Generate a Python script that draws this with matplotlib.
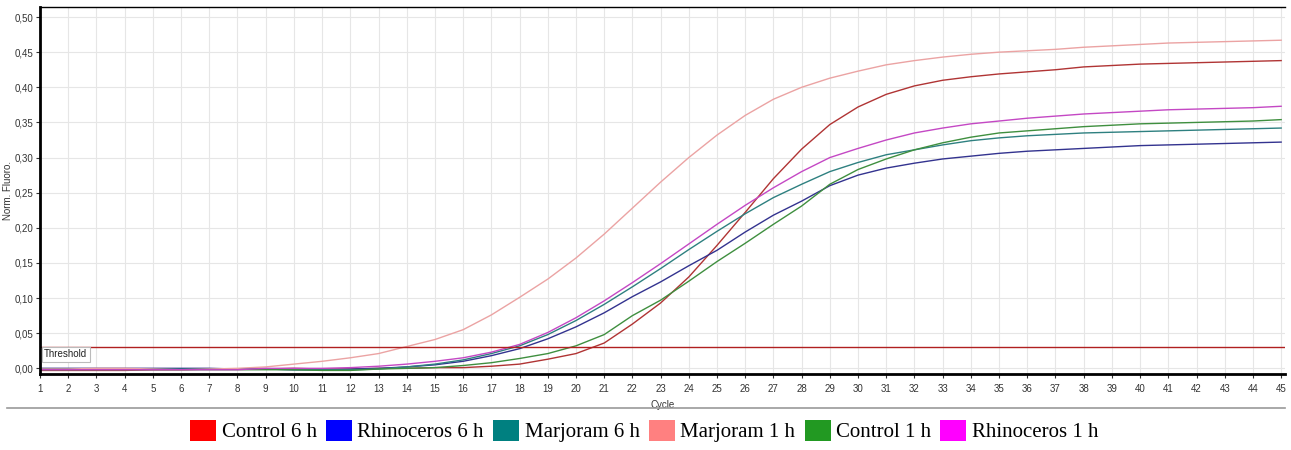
import numpy as np
import matplotlib.pyplot as plt
from matplotlib.patches import Patch
from matplotlib.lines import Line2D
from matplotlib.ticker import FuncFormatter

# Cycle numbers
cycles = np.arange(1, 46)

# Normalised fluorescence per sample
control_6h = [-0.003, -0.003, -0.003, -0.003, -0.002, -0.002, -0.001, -0.001, -0.001, 0.0,
              -0.001, -0.001, 0.0, 0.0, 0.001, 0.001, 0.003, 0.006, 0.013, 0.021,
              0.036, 0.063, 0.093, 0.130, 0.175, 0.222, 0.270, 0.312, 0.347, 0.372,
              0.390, 0.402, 0.410, 0.415, 0.419, 0.422, 0.425, 0.429, 0.431, 0.433,
              0.434, 0.435, 0.436, 0.437, 0.438]
rhino_6h = [0.0, 0.0, 0.0, 0.0, 0.0, 0.0, 0.0, -0.001, -0.001, -0.002,
            -0.002, -0.001, 0.0, 0.002, 0.005, 0.010, 0.018, 0.028, 0.042, 0.059,
            0.079, 0.102, 0.123, 0.146, 0.168, 0.194, 0.218, 0.238, 0.260, 0.275,
            0.285, 0.292, 0.298, 0.302, 0.306, 0.309, 0.311, 0.313, 0.315, 0.317,
            0.318, 0.319, 0.320, 0.321, 0.322]
marjoram_6h = [-0.001, -0.001, -0.001, -0.001, -0.001, -0.001, -0.001, -0.001, -0.001, -0.002,
               -0.002, -0.002, -0.001, 0.002, 0.006, 0.012, 0.021, 0.032, 0.048, 0.068,
               0.091, 0.116, 0.142, 0.169, 0.195, 0.220, 0.243, 0.262, 0.280, 0.293,
               0.304, 0.311, 0.318, 0.324, 0.328, 0.331, 0.333, 0.335, 0.336, 0.337,
               0.338, 0.339, 0.340, 0.341, 0.342]
marjoram_1h = [-0.001, -0.001, 0.0, 0.0, -0.001, -0.002, -0.001, 0.0, 0.002, 0.006,
               0.010, 0.015, 0.021, 0.031, 0.041, 0.055, 0.076, 0.101, 0.127, 0.157,
               0.191, 0.228, 0.265, 0.300, 0.332, 0.360, 0.383, 0.400, 0.413, 0.423,
               0.432, 0.438, 0.443, 0.447, 0.450, 0.452, 0.454, 0.457, 0.459, 0.461,
               0.463, 0.464, 0.465, 0.466, 0.467]
control_1h = [-0.002, -0.002, -0.002, -0.002, -0.002, -0.002, -0.002, -0.002, -0.002, -0.002,
              -0.003, -0.003, -0.001, 0.0, 0.001, 0.004, 0.008, 0.014, 0.021, 0.032,
              0.048, 0.075, 0.097, 0.124, 0.152, 0.178, 0.205, 0.231, 0.262, 0.283,
              0.298, 0.311, 0.321, 0.329, 0.335, 0.338, 0.341, 0.344, 0.346, 0.348,
              0.349, 0.350, 0.351, 0.352, 0.354]
rhino_1h = [-0.002, -0.002, -0.002, -0.002, -0.002, -0.002, -0.002, -0.002, 0.0, 0.0,
            0.0, 0.001, 0.003, 0.006, 0.010, 0.015, 0.023, 0.034, 0.051, 0.072,
            0.096, 0.122, 0.149, 0.177, 0.205, 0.232, 0.257, 0.280, 0.300, 0.313,
            0.325, 0.335, 0.342, 0.348, 0.352, 0.356, 0.359, 0.362, 0.364, 0.366,
            0.368, 0.369, 0.370, 0.371, 0.373]

threshold = 0.03

labels = ["Control 6 h", "Rhinoceros 6 h", "Marjoram 6 h", "Marjoram 1 h", "Control 1 h", "Rhinoceros 1 h"]
series = [control_6h, rhino_6h, marjoram_6h, marjoram_1h, control_1h, rhino_1h]
line_colors = ["#b03434", "#33338f", "#2e8080", "#eba3a3", "#3f8f3f", "#c448c4"]
legend_colors = ["#ff0000", "#0000ff", "#008080", "#ff8080", "#229922", "#ff00ff"]

fig = plt.figure(figsize=(12.91, 4.5), dpi=100)
ax = fig.add_axes([0.031, 0.169, 0.964, 0.815])

for vals, c in zip(series, line_colors):
    ax.plot(cycles, vals, color=c, lw=1.0)

# threshold line + label
ax.axhline(threshold, color="#b02020", lw=1.0)
ax.text(1.15, threshold - 0.003, "Threshold", fontsize=7, va="top", ha="left", color="#222222",
        family="Liberation Sans",
        bbox=dict(boxstyle="square,pad=0.25", fc="white", ec="#bbbbbb", lw=0.8))

ax.set_xlim(1, 45.12)
ax.set_ylim(-0.008, 0.514)
ax.set_xticks(cycles)
ax.set_yticks(np.arange(0, 0.51, 0.05))
ax.yaxis.set_major_formatter(FuncFormatter(lambda v, p: f"{v:.2f}".replace(".", ",")))
ax.tick_params(labelsize=7, length=3, width=0.8, colors="#333333")
ax.tick_params(axis="x", pad=4)
ax.tick_params(axis="y", pad=1.5)
for lab in ax.get_xticklabels() + ax.get_yticklabels():
    lab.set_family("Liberation Sans")
ax.grid(True, color="#e6e6e6", lw=0.8)
ax.set_axisbelow(True)

ax.spines["left"].set_linewidth(2)
ax.spines["bottom"].set_linewidth(2)
ax.spines["top"].set_linewidth(1)
ax.spines["right"].set_visible(False)

ax.set_ylabel("Norm. Fluoro.", fontsize=7, color="#333333", family="Liberation Sans")
ax.yaxis.set_label_coords(-0.0215, 0.5)
ax.set_xlabel("Cycle", fontsize=7, color="#333333", family="Liberation Sans")
ax.xaxis.set_label_coords(0.5, -0.071)

# separator line above legend
fig.add_artist(Line2D([7 / 1291, 1285 / 1291], [1 - 408 / 450, 1 - 408 / 450], color="#999999", lw=1.2))

handles = [Patch(facecolor=c, edgecolor="none") for c in legend_colors]
fig.legend(handles, labels, loc="center", bbox_to_anchor=(0.499, 0.042), ncol=6, frameon=False,
           prop={"family": "Liberation Serif", "size": 15}, handlelength=1.25, handleheight=1.2,
           handletextpad=0.25, columnspacing=0.45, borderpad=0)

plt.savefig("out.png", dpi=100)
